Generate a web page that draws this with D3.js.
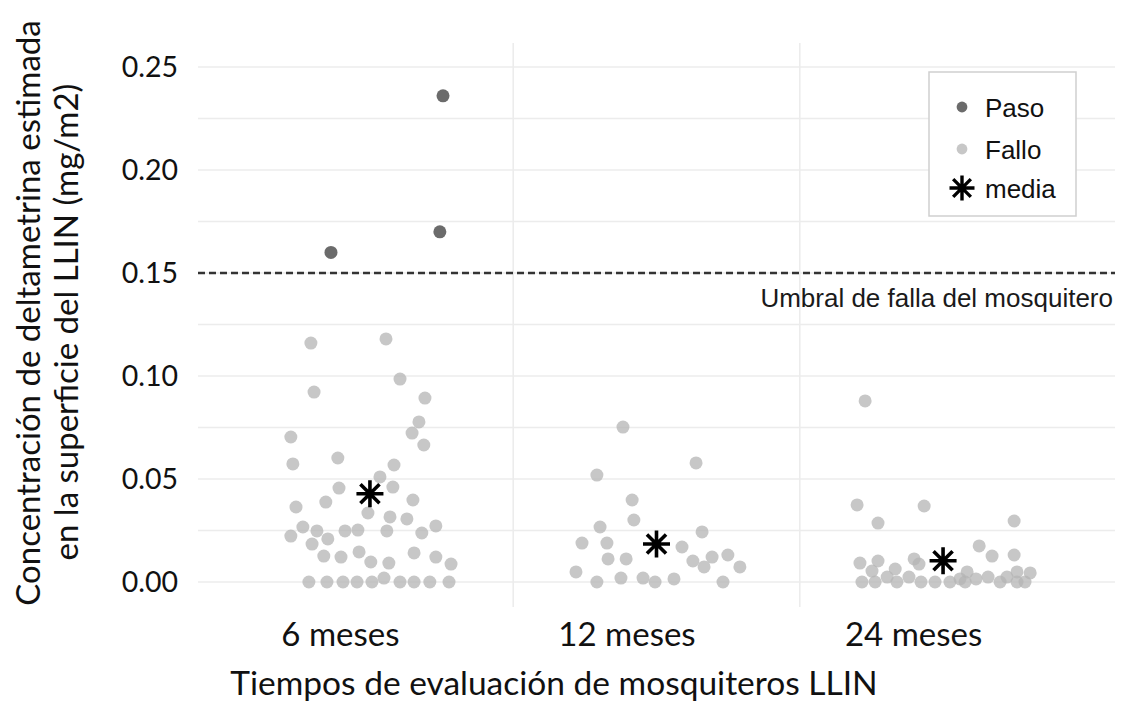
<!DOCTYPE html>
<html>
<head>
<meta charset="utf-8">
<script src="https://cdn.jsdelivr.net/npm/d3@7"></script>
<style>
  html, body { margin: 0; padding: 0; background: #fff; }
  svg { display: block; }
</style>
</head>
<body>
<svg id="chart" width="1121" height="706"></svg>
<script>
// Deltamethrin surface concentration (mg/m2) per net, by evaluation time.
const categories = ["6 meses", "12 meses", "24 meses"];
const yTicks = [0, 0.05, 0.10, 0.15, 0.20, 0.25];
const threshold = 0.15;
const thresholdLabel = "Umbral de falla del mosquitero";

// Values per net, and horizontal jitter (fraction of category step)
const conc6m = [0.236, 0.170, 0.160, 0.116, 0.118, 0.0985, 0.0922, 0.0893, 0.0777, 0.0723,
  0.0704, 0.0665, 0.0573, 0.0602, 0.0568, 0.0510, 0.0456, 0.0461, 0.0364, 0.0388,
  0.0398, 0.0335, 0.0316, 0.0306, 0.0267, 0.0223, 0.0248, 0.0209, 0.0184, 0.0248,
  0.0252, 0.0248, 0.0238, 0.0272, 0.0126, 0.0121, 0.0146, 0.0097, 0.0092, 0.0141,
  0.0121, 0.0087, 0, 0, 0, 0, 0, 0, 0, 0, 0, 0.0019];
const jitter6m = [0.255, 0.244, -0.136, -0.206, 0.056, 0.105, -0.195, 0.192, 0.171, 0.147,
  -0.276, 0.188, -0.269, -0.112, 0.084, 0.035, -0.108, 0.080, -0.258, -0.154,
  0.150, -0.007, 0.070, 0.129, -0.234, -0.276, -0.185, -0.147, -0.202, -0.087,
  -0.042, 0.059, 0.181, 0.230, -0.161, -0.101, -0.038, 0.003, 0.066, 0.154,
  0.230, 0.283, -0.213, -0.150, -0.094, -0.045, 0.007, 0.105, 0.154, 0.209, 0.276, 0.049];

const conc12m = [0.0752, 0.0578, 0.0519, 0.0398, 0.0301, 0.0267, 0.0243, 0.0189, 0.0189, 0.0170,
  0.0112, 0.0112, 0.0102, 0.0121, 0.0131, 0.0073, 0.0073, 0.0049, 0, 0.0019,
  0.0019, 0, 0.0015, 0];
const jitter12m = [-0.117, 0.138, -0.208, -0.085, -0.079, -0.197, 0.159, -0.260, -0.173, 0.089,
  -0.169, -0.106, 0.127, 0.194, 0.249, 0.166, 0.291, -0.281, -0.208, -0.124,
  -0.047, -0.005, 0.061, 0.232];

const conc24m = [0.0879, 0.0374, 0.0369, 0.0286, 0.0296, 0.0175, 0.0126, 0.0131, 0.0092, 0.0102,
  0.0112, 0.0087, 0.0053, 0.0063, 0.0024, 0.0024, 0.0049, 0.0015, 0.0024, 0.0024,
  0.0049, 0.0044, 0.0015, 0, 0, 0, 0, 0, 0, 0, 0, 0, 0];
const jitter24m = [-0.272, -0.300, -0.066, -0.227, 0.248, 0.126, 0.171, 0.248, -0.290, -0.227,
  -0.101, -0.084, -0.248, -0.167, -0.195, -0.119, 0.084, 0.059, 0.157, 0.223,
  0.258, 0.304, 0.115, -0.283, -0.237, -0.161, -0.077, -0.028, 0.024, 0.077,
  0.199, 0.258, 0.286];

const legendLabels = ["Paso", "Fallo", "media"];
const xTitle = "Tiempos de evaluación de mosquiteros LLIN";
const yTitle = ["Concentración de deltametrina estimada", "en la superficie del LLIN (mg/m2)"];

// ---------------------------------------------------------------
const groups = [
  { cat: categories[0], conc: conc6m, jit: jitter6m },
  { cat: categories[1], conc: conc12m, jit: jitter12m },
  { cat: categories[2], conc: conc24m, jit: jitter24m }
];

const panel = { left: 198, right: 1115, top: 43, bottom: 607 };
const svg = d3.select("#chart");

const x = d3.scalePoint().domain(categories).range([panel.left, panel.right]).padding(0.6);
const y = d3.scaleLinear().domain([0, 0.25]).range([582, 67]);

const sansCal = "Lato, 'Open Sans', sans-serif";
const sansArial = "'Liberation Sans', Arial, sans-serif";

const COL_PASS = "#3a3a3a", COL_FAIL = "#b4b4b4";

// Grid: horizontal every 0.025, vertical between categories
const gridG = svg.append("g");
gridG.selectAll("line.h").data(d3.range(0, 0.2501, 0.025)).join("line")
  .attr("x1", panel.left).attr("x2", panel.right)
  .attr("y1", d => y(d)).attr("y2", d => y(d))
  .attr("stroke", "#ececec").attr("stroke-width", 1.6);
const mids = d3.pairs(categories).map(([a, b]) => (x(a) + x(b)) / 2);
gridG.selectAll("line.v").data(mids).join("line")
  .attr("x1", d => d).attr("x2", d => d)
  .attr("y1", panel.top).attr("y2", panel.bottom)
  .attr("stroke", "#ececec").attr("stroke-width", 1.6);

// Threshold
svg.append("line")
  .attr("x1", panel.left).attr("x2", panel.right)
  .attr("y1", y(threshold)).attr("y2", y(threshold))
  .attr("stroke", "#333").attr("stroke-width", 2.6)
  .attr("stroke-dasharray", "7,4");
svg.append("text")
  .attr("x", 1113).attr("y", y(threshold) + 34)
  .attr("text-anchor", "end")
  .attr("font-family", sansArial).attr("font-size", 26)
  .attr("fill", "#1a1a1a")
  .text(thresholdLabel);

// Points
const step = x.step();
const pts = groups.flatMap(g => g.conc.map((v, i) => ({ cat: g.cat, v, j: g.jit[i] })));
const ptG = svg.append("g");
ptG.selectAll("circle")
  .data(pts.sort((a, b) => (a.v >= threshold) - (b.v >= threshold)))
  .join("circle")
  .attr("cx", d => x(d.cat) + d.j * step)
  .attr("cy", d => y(d.v))
  .attr("r", 6.5)
  .attr("fill", d => d.v >= threshold ? COL_PASS : COL_FAIL)
  .attr("fill-opacity", 0.75);

// Mean asterisks
function asterisk(r) {
  const d = r * Math.SQRT1_2;
  return `M0,${-r}L0,${r}M${-r},0L${r},0M${-d},${-d}L${d},${d}M${-d},${d}L${d},${-d}`;
}
svg.append("g").selectAll("path")
  .data(groups.map(g => ({ cat: g.cat, m: d3.mean(g.conc) })))
  .join("path")
  .attr("transform", d => `translate(${x(d.cat)},${y(d.m)})`)
  .attr("d", asterisk(13.5))
  .attr("stroke", "#000").attr("stroke-width", 3.6).attr("fill", "none");

// Y axis
const yAxis = svg.append("g")
  .attr("transform", `translate(${panel.left},0)`)
  .call(d3.axisLeft(y).tickValues(yTicks).tickFormat(d3.format(".2f")).tickSize(0).tickPadding(20));
yAxis.select(".domain").remove();
yAxis.selectAll("text").attr("font-family", sansCal).attr("font-size", 28.5).attr("fill", "#111");

// X axis
const xAxis = svg.append("g")
  .attr("transform", `translate(0,${panel.bottom})`)
  .call(d3.axisBottom(x).tickSize(0).tickPadding(16));
xAxis.select(".domain").remove();
xAxis.selectAll("text").attr("font-family", sansCal).attr("font-size", 33)
  .attr("fill", "#111").attr("dx", -30);

// Axis titles
svg.append("text")
  .attr("x", 554).attr("y", 695)
  .attr("text-anchor", "middle")
  .attr("font-family", sansCal).attr("font-size", 33.5).attr("fill", "#111")
  .text(xTitle);
yTitle.forEach((t, i) => {
  svg.append("text")
    .attr("transform", `translate(${40 + i * 38},${313 + i * 9}) rotate(-90)`)
    .attr("text-anchor", "middle")
    .attr("font-family", sansCal).attr("font-size", 33).attr("fill", "#111")
    .text(t);
});

// Legend
const lg = svg.append("g");
lg.append("rect").attr("x", 929).attr("y", 72).attr("width", 147).attr("height", 144)
  .attr("fill", "#fff").attr("stroke", "#cfcfcf").attr("stroke-width", 1.5);
const legendRows = [
  { label: legendLabels[0], kind: "pass", cy: 107 },
  { label: legendLabels[1], kind: "fail", cy: 149 },
  { label: legendLabels[2], kind: "mean", cy: 188 }
];
legendRows.forEach(r => {
  if (r.kind === "mean") {
    lg.append("path").attr("transform", `translate(962,${r.cy})`).attr("d", asterisk(12.5))
      .attr("stroke", "#000").attr("stroke-width", 3.4).attr("fill", "none");
  } else {
    lg.append("circle").attr("cx", 962).attr("cy", r.cy).attr("r", 5.4)
      .attr("fill", r.kind === "pass" ? COL_PASS : COL_FAIL).attr("fill-opacity", 0.75);
  }
  lg.append("text").attr("x", 985).attr("y", r.cy + 9.5)
    .attr("font-family", sansArial).attr("font-size", 26).attr("fill", "#111")
    .text(r.label);
});
</script>
</body>
</html>
